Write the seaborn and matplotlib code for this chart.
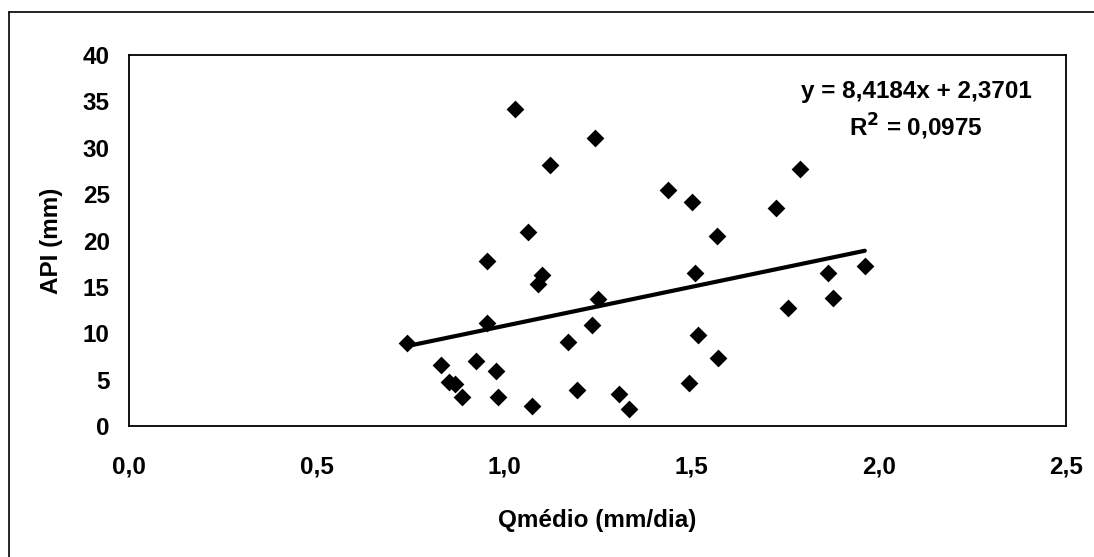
import numpy as np
import pandas as pd
import seaborn as sns
import matplotlib
matplotlib.use("Agg")
import matplotlib.pyplot as plt
from matplotlib.lines import Line2D

# ---- data ----
q_medio = [0.740, 0.833, 0.852, 0.868, 0.887, 0.925, 0.954, 0.955, 0.980, 0.985,
           1.029, 1.064, 1.076, 1.091, 1.102, 1.122, 1.171, 1.195, 1.236, 1.244,
           1.251, 1.307, 1.334, 1.439, 1.494, 1.503, 1.509, 1.518, 1.568, 1.572,
           1.727, 1.758, 1.789, 1.865, 1.878, 1.963]
api_mm = [8.9, 6.6, 4.7, 4.5, 3.1, 7.0, 11.1, 17.8, 5.9, 3.1,
          34.2, 20.9, 2.2, 15.3, 16.3, 28.1, 9.1, 3.9, 10.9, 31.1,
          13.7, 3.5, 1.8, 25.4, 4.6, 24.1, 16.5, 9.8, 20.5, 7.3,
          23.5, 12.7, 27.7, 16.5, 13.8, 17.2]
slope = 8.4184
intercept = 2.3701
r2 = 0.0975
x_ticks = [0.0, 0.5, 1.0, 1.5, 2.0, 2.5]
x_tick_labels = ["0,0", "0,5", "1,0", "1,5", "2,0", "2,5"]
y_ticks = [0, 5, 10, 15, 20, 25, 30, 35, 40]
y_tick_labels = ["0", "5", "10", "15", "20", "25", "30", "35", "40"]

sns.set_theme(style="white")
plt.rcParams['font.family'] = ['Liberation Sans', 'DejaVu Sans']
plt.rcParams['font.weight'] = 'bold'
plt.rcParams['text.color'] = 'black'
plt.rcParams['axes.labelcolor'] = 'black'
plt.rcParams['xtick.color'] = 'black'
plt.rcParams['ytick.color'] = 'black'
plt.rcParams['mathtext.default'] = 'bf'

FS = 17.5
W, H = 1094, 557
fig = plt.figure(figsize=(W / 100, H / 100), dpi=100)
ax = fig.add_axes([129.3 / W, 1 - 426 / H, (1066 - 129.3) / W, (426 - 55) / H])

df = pd.DataFrame({"Qmedio": q_medio, "API": api_mm})
sns.scatterplot(data=df, x="Qmedio", y="API", ax=ax, marker="D", s=82,
                color="black", edgecolor="black", linewidth=0, zorder=3)

xfit = np.array([min(q_medio), max(q_medio)])
fit_df = pd.DataFrame({"x": xfit, "y": slope * xfit + intercept})
sns.lineplot(data=fit_df, x="x", y="y", ax=ax, color="black", linewidth=3.0, zorder=4)

ax.set_xlim(0, 2.5)
ax.set_ylim(0, 40)
ax.set_xticks(x_ticks)
ax.set_xticklabels(x_tick_labels)
ax.set_yticks(y_ticks)
ax.set_yticklabels(y_tick_labels)
ax.tick_params(axis="both", which="major", direction="out", length=7, width=1.2,
               color="black", labelsize=FS, labelcolor="black")
ax.tick_params(axis="x", pad=14)
ax.tick_params(axis="y", pad=7)
for lab in ax.get_xticklabels() + ax.get_yticklabels():
    lab.set_fontweight("bold")
for sp in ax.spines.values():
    sp.set_visible(True)
    sp.set_color("black")
    sp.set_linewidth(1.3)

ax.set_xlabel("Qmédio (mm/dia)", fontsize=FS, fontweight="bold", labelpad=22)
ax.set_ylabel("API (mm)", fontsize=FS, fontweight="bold", labelpad=14)
ax.grid(False)

ax.text(916 / W, 1 - 111 / H,
        "y = 8,4184x + 2,3701\nR$^{2}$ = 0,0975",
        transform=fig.transFigure, ha="center", va="center", fontsize=FS,
        fontweight="bold", linespacing=1.4)

# outer chart frame (left and top edges visible)
fig.add_artist(Line2D([9 / W, 9 / W], [1 - 12 / H, 0], transform=fig.transFigure,
                      color="black", linewidth=1.2))
fig.add_artist(Line2D([9 / W, 1.0], [1 - 12 / H, 1 - 12 / H], transform=fig.transFigure,
                      color="black", linewidth=1.2))

fig.savefig("out.png", dpi=100, facecolor="white")
